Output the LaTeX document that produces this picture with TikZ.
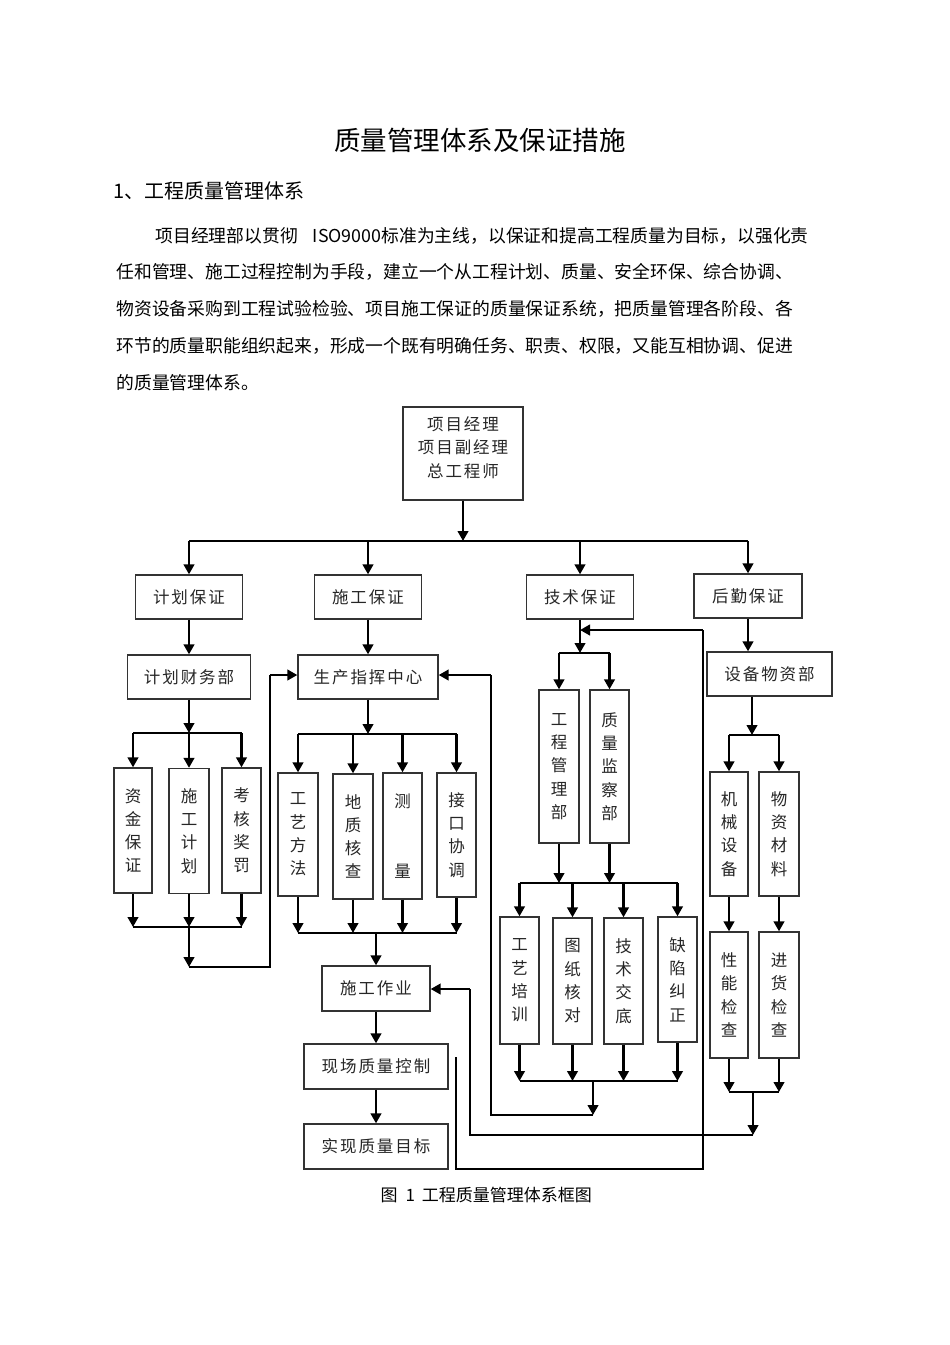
\documentclass[tikz,border=0pt]{standalone}
\usepackage{fontspec}
\setmainfont{Noto Sans CJK SC}
\newfontfamily\boxfont[LetterSpace=12]{Noto Sans CJK SC}
\usetikzlibrary{arrows.meta}

\begin{document}
\begin{tikzpicture}[x=1pt,y=-1pt,
    box/.style={draw=black!80,line width=1.3pt,text=black!85,inner sep=0pt,
      font=\boxfont\fontsize{16.5}{23.3}\selectfont,minimum height=44},
    vbox/.style={box,align=center,minimum width=39,minimum height=125},
    arr/.style={line width=2.5pt,-{Triangle[length=10pt,width=10.5pt]}},
    bus/.style={line width=1.5pt},
    fb/.style={line width=1.1pt}]
  \fill[white] (0,0) rectangle (950,1345);
  \useasboundingbox (0,0) rectangle (950,1345);

  % text above the chart
  \node[font=\fontsize{26.5}{30}\selectfont] (title) at (480,140) {质量管理体系及保证措施};
  \node[anchor=west,font=\fontsize{20}{24}\selectfont] (sec) at (110,191) {1、工程质量管理体系};
  \node[anchor=west,font=\fontsize{17.8}{20}\selectfont] (l1) at (152,236)
    {项目经理部以贯彻\hspace{15pt}ISO9000标准为主线，以保证和提高工程质量为目标，以强化责};
  \node[anchor=west,font=\fontsize{17.8}{20}\selectfont] (l2) at (113,272)
    {任和管理、施工过程控制为手段，建立一个从工程计划、质量、安全环保、综合协调、};
  \node[anchor=west,font=\fontsize{17.8}{20}\selectfont] (l3) at (113,309)
    {物资设备采购到工程试验检验、项目施工保证的质量保证系统，把质量管理各阶段、各};
  \node[anchor=west,font=\fontsize{17.8}{20}\selectfont] (l4) at (113,346)
    {环节的质量职能组织起来，形成一个既有明确任务、职责、权限，又能互相协调、促进};
  \node[anchor=west,font=\fontsize{17.8}{20}\selectfont] (l5) at (113,383)
    {的质量管理体系。};

  % boxes
  \node[box,minimum width=120,minimum height=93,
    label={[align=center,yshift=6pt,text=black!85,font=\boxfont\fontsize{16.5}{23.5}\selectfont]center:项目经理\\项目副经理\\总工程师}]
    (pm) at (463,453.5) {};
  \node[box,minimum width=107] (jhbz) at (189,597) {计划保证};
  \node[box,minimum width=107] (sgbz) at (368,597) {施工保证};
  \node[box,minimum width=107] (jsbz) at (580,597) {技术保证};
  \node[box,minimum width=108] (hqbz) at (748,596) {后勤保证};

  \node[box,minimum width=123] (jhcw) at (189,677) {计划财务部};
  \node[box,minimum width=140] (sczh) at (368,677) {生产指挥中心};
  \node[box,minimum width=125] (sbwz) at (769.5,674) {设备物资部};

  \node[vbox,minimum width=38] (zjbz) at (133,830.5) {资\\金\\保\\证};
  \node[vbox,minimum width=40] (sgjh) at (189,831) {施\\工\\计\\划};
  \node[vbox] (khjf) at (241.5,830.5) {考\\核\\奖\\罚};

  \node[vbox,minimum width=40,minimum height=123] (gyff) at (298,834.5) {工\\艺\\方\\法};
  \node[vbox,minimum width=40] (dzhc) at (353,836.5) {地\\质\\核\\查};
  \node[vbox,minimum height=126] (cl) at (402.5,836) {测\\\mbox{}\\\mbox{}\\量};
  \node[vbox,minimum height=124] (jkxt) at (456.5,835) {接\\口\\协\\调};

  \node[box,minimum width=108,minimum height=45] (sgzy) at (376,988.5) {施工作业};
  \node[box,minimum width=144,minimum height=45] (xczl) at (376,1066.5) {现场质量控制};
  \node[box,minimum width=144,minimum height=45] (sxmb) at (376,1146.5) {实现质量目标};

  \node[vbox,minimum width=40,minimum height=153] (gcgl) at (559,766.5) {工\\程\\管\\理\\部};
  \node[vbox,minimum height=153] (zljc) at (609.5,766.5) {质\\量\\监\\察\\部};

  \node[vbox,minimum height=127] (gypx) at (519.5,980.5) {工\\艺\\培\\训};
  \node[vbox,minimum height=126] (tzhd) at (572.5,981) {图\\纸\\核\\对};
  \node[vbox,minimum height=126] (jsjd) at (623.5,981) {技\\术\\交\\底};
  \node[vbox] (qxjz) at (677.5,979.5) {缺\\陷\\纠\\正};

  \node[vbox,minimum width=38,minimum height=124] (jxsb) at (729,834) {机\\械\\设\\备};
  \node[vbox,minimum width=40,minimum height=124] (wzcl) at (779,834) {物\\资\\材\\料};
  \node[vbox,minimum width=38,minimum height=126] (xnjc) at (729,995) {性\\能\\检\\查};
  \node[vbox,minimum width=40,minimum height=126] (jhjc) at (779,995) {进\\货\\检\\查};

  % top level
  \coordinate (top) at (463,541);
  \draw[arr] (pm) -- (top);
  \draw[bus] (jhbz |- top) -- (hqbz |- top);
  \foreach \n in {jhbz,sgbz,jsbz,hqbz}
    \draw[arr] (\n |- top) -- (\n);
  \draw[arr] (jhbz) -- (jhcw);
  \draw[arr] (sgbz) -- (sczh);
  \draw[arr] (hqbz) -- (hqbz |- sbwz.north);

  % plan column
  \coordinate (jhb) at (189,733);
  \coordinate (jhm) at (189,927);
  \coordinate (jhd) at (189,967);
  \coordinate (jhr) at (270,675);
  \draw[arr] (jhcw) -- (jhb);
  \draw[bus] (zjbz |- jhb) -- (khjf |- jhb);
  \draw[bus] (zjbz |- jhm) -- (khjf |- jhm);
  \foreach \n in {zjbz,sgjh,khjf} {
    \draw[arr] (\n |- jhb) -- (\n);
    \draw[arr] (\n) -- (\n |- jhm);
  }
  \draw[arr] (jhm) -- (jhd);
  \draw[fb] (jhd) -| (jhr);
  \draw[arr] (jhr) -- (jhr -| sczh.west);

  % site column
  \coordinate (scb) at (368,734);
  \coordinate (scm) at (376,933);
  \draw[arr] (sczh) -- (scb);
  \draw[bus] (gyff |- scb) -- (jkxt |- scb);
  \draw[bus] (gyff |- scm) -- (jkxt |- scm);
  \foreach \n in {gyff,dzhc,cl,jkxt} {
    \draw[arr] (\n |- scb) -- (\n);
    \draw[arr] (\n) -- (\n |- scm);
  }
  \draw[arr] (scm) -- (sgzy);
  \draw[arr] (sgzy) -- (xczl);
  \draw[arr] (xczl) -- (sxmb);

  % technical column
  \coordinate (jsb) at (580,653);
  \coordinate (jsin) at (580,630);
  \coordinate (jsm) at (593,883);
  \coordinate (jsd) at (593,1081);
  \coordinate (jse) at (593,1115);
  \coordinate (jsr) at (491,675);
  \draw[arr] (jsbz) -- (jsb);
  \draw[bus] (gcgl |- jsb) -- (zljc |- jsb);
  \foreach \n in {gcgl,zljc} {
    \draw[arr] (\n |- jsb) -- (\n);
    \draw[arr] (\n) -- (\n |- jsm);
  }
  \draw[bus] (gypx |- jsm) -- (qxjz |- jsm);
  \draw[bus] (gypx |- jsd) -- (qxjz |- jsd);
  \foreach \n in {gypx,tzhd,jsjd,qxjz} {
    \draw[arr] (\n |- jsm) -- (\n);
    \draw[arr] (\n) -- (\n |- jsd);
  }
  \draw[arr] (jsd) -- (jse);
  \draw[fb] (jse) -| (jsr);
  \draw[arr] (jsr) -- (jsr -| sczh.east);

  % logistics column
  \coordinate (hqb) at (752,735);
  \coordinate (hqm) at (753,1092);
  \coordinate (hqd) at (753,1135);
  \coordinate (sgr) at (470,989);
  \draw[arr] (sbwz.south -| hqb) -- (hqb);
  \draw[bus] (jxsb |- hqb) -- (wzcl |- hqb);
  \draw[bus] (xnjc |- hqm) -- (jhjc |- hqm);
  \draw[arr] (jxsb |- hqb) -- (jxsb);
  \draw[arr] (wzcl |- hqb) -- (wzcl);
  \draw[arr] (jxsb) -- (xnjc);
  \draw[arr] (wzcl) -- (jhjc);
  \draw[arr] (xnjc) -- (xnjc |- hqm);
  \draw[arr] (jhjc) -- (jhjc |- hqm);
  \draw[arr] (hqm) -- (hqd);
  \draw[fb] (hqd) -| (sgr);
  \draw[arr] (sgr) -- (sgr -| sgzy.east);

  % feedback to technical
  \coordinate (xcs) at (456,1057);
  \coordinate (fbb) at (703,1169);
  \coordinate (fbc) at (703,630);
  \draw[fb] (xcs) |- (fbb) -- (fbc);
  \draw[arr] (fbc) -- (jsin);

  \node[anchor=west,font=\fontsize{17}{20}\selectfont] (cap) at (377,1195)
    {图\hspace{8pt}1\hspace{7pt}工程质量管理体系框图};
\end{tikzpicture}
\end{document}
